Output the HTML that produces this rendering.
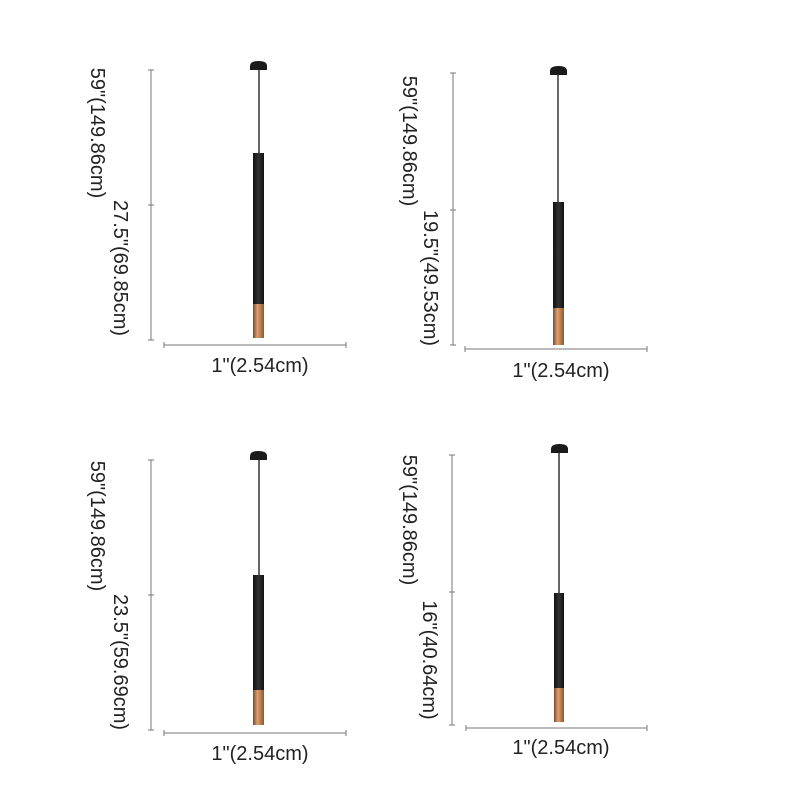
<!DOCTYPE html>
<html><head><meta charset="utf-8"><style>
html,body{margin:0;padding:0;background:#fff;}
svg{display:block;}
text{font-family:"Liberation Sans",sans-serif;font-size:20px;fill:#222;}
</style></head><body>
<svg width="800" height="800" viewBox="0 0 800 800">
<defs>
<linearGradient id="g" x1="0" x2="1"><stop offset="0" stop-color="#7a4a22"/><stop offset="0.4" stop-color="#e0a070"/><stop offset="1" stop-color="#8a5a30"/></linearGradient>
<linearGradient id="b" x1="0" x2="1"><stop offset="0" stop-color="#111"/><stop offset="0.5" stop-color="#333"/><stop offset="1" stop-color="#111"/></linearGradient>
</defs>
<g stroke="#777" stroke-width="1">
<line x1="151" y1="70" x2="151" y2="340"/><line x1="148" y1="70" x2="154" y2="70"/><line x1="148" y1="205" x2="154" y2="205"/><line x1="148" y1="340" x2="154" y2="340"/>
<line x1="164" y1="345" x2="346" y2="345"/><line x1="164" y1="342" x2="164" y2="348"/><line x1="346" y1="342" x2="346" y2="348"/>
<line x1="453" y1="73" x2="453" y2="345"/><line x1="450" y1="73" x2="456" y2="73"/><line x1="450" y1="210" x2="456" y2="210"/><line x1="450" y1="345" x2="456" y2="345"/>
<line x1="465" y1="349" x2="647" y2="349"/><line x1="465" y1="346" x2="465" y2="352"/><line x1="647" y1="346" x2="647" y2="352"/>
<line x1="151" y1="460" x2="151" y2="730"/><line x1="148" y1="460" x2="154" y2="460"/><line x1="148" y1="595" x2="154" y2="595"/><line x1="148" y1="730" x2="154" y2="730"/>
<line x1="164" y1="733" x2="346" y2="733"/><line x1="164" y1="730" x2="164" y2="736"/><line x1="346" y1="730" x2="346" y2="736"/>
<line x1="452" y1="455" x2="452" y2="725"/><line x1="449" y1="455" x2="455" y2="455"/><line x1="449" y1="592" x2="455" y2="592"/><line x1="449" y1="725" x2="455" y2="725"/>
<line x1="466" y1="728" x2="647" y2="728"/><line x1="466" y1="725" x2="466" y2="731"/><line x1="647" y1="725" x2="647" y2="731"/>
</g>
<g>
<path d="M250 70 L250 66 Q250 61 258.5 61 Q267 61 267 66 L267 70 Z" fill="#1a1a1a"/><line x1="259" y1="70" x2="259" y2="154" stroke="#333" stroke-width="1.5"/>
<rect x="253" y="153" width="11" height="152" fill="url(#b)"/><rect x="253" y="304" width="11" height="34" fill="url(#g)"/>
<path d="M550 75 L550 71 Q550 66 558.5 66 Q567 66 567 71 L567 75 Z" fill="#1a1a1a"/><line x1="558" y1="75" x2="558" y2="203" stroke="#333" stroke-width="1.5"/>
<rect x="553" y="202" width="11" height="107" fill="url(#b)"/><rect x="553" y="308" width="11" height="37" fill="url(#g)"/>
<path d="M250 460 L250 456 Q250 451 258.5 451 Q267 451 267 456 L267 460 Z" fill="#1a1a1a"/><line x1="259" y1="460" x2="259" y2="576" stroke="#333" stroke-width="1.5"/>
<rect x="253" y="575" width="11" height="116" fill="url(#b)"/><rect x="253" y="690" width="11" height="35" fill="url(#g)"/>
<path d="M551 453 L551 449 Q551 444 559.5 444 Q568 444 568 449 L568 453 Z" fill="#1a1a1a"/><line x1="559" y1="453" x2="559" y2="594" stroke="#333" stroke-width="1.5"/>
<rect x="554" y="593" width="10" height="96" fill="url(#b)"/><rect x="554" y="688" width="10" height="34" fill="url(#g)"/>
</g>
<text x="260" y="372" text-anchor="middle">1"(2.54cm)</text>
<text x="561" y="377" text-anchor="middle">1"(2.54cm)</text>
<text x="260" y="760" text-anchor="middle">1"(2.54cm)</text>
<text x="561" y="754" text-anchor="middle">1"(2.54cm)</text>
<g text-anchor="middle">
<text transform="translate(91,133) rotate(90)">59"(149.86cm)</text>
<text transform="translate(114,268) rotate(90)">27.5"(69.85cm)</text>
<text transform="translate(403,141) rotate(90)">59"(149.86cm)</text>
<text transform="translate(424,278) rotate(90)">19.5"(49.53cm)</text>
<text transform="translate(91,526) rotate(90)">59"(149.86cm)</text>
<text transform="translate(114,662) rotate(90)">23.5"(59.69cm)</text>
<text transform="translate(403,520) rotate(90)">59"(149.86cm)</text>
<text transform="translate(423,660) rotate(90)">16"(40.64cm)</text>
</g>
</svg>
</body></html>
